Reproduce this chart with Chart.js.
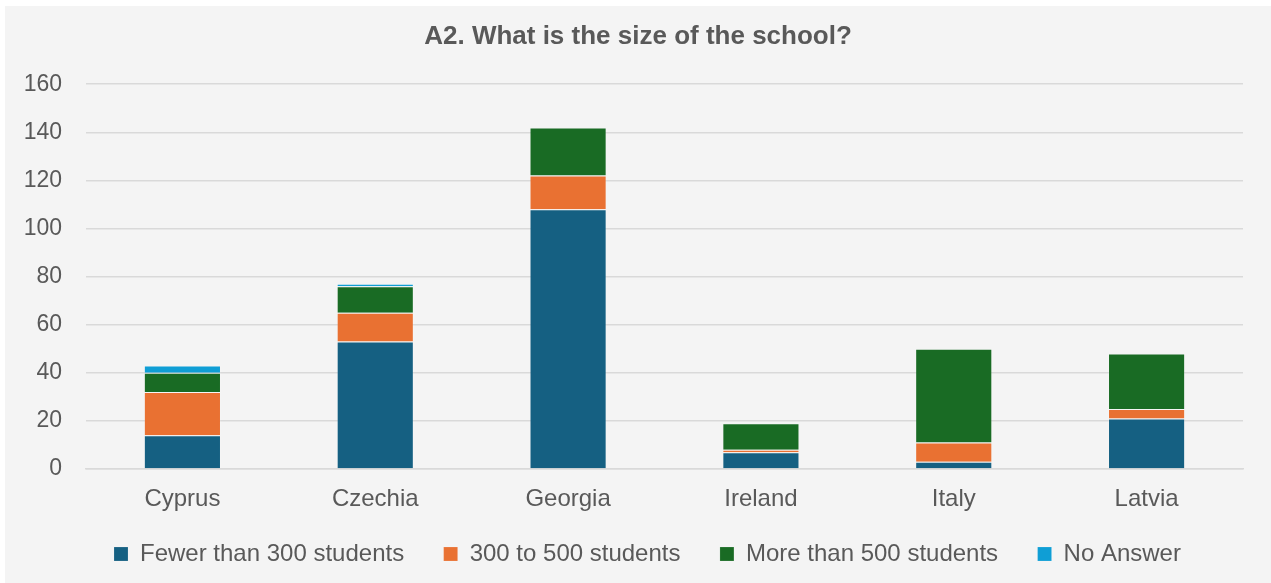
<!DOCTYPE html>
<html>
<head>
<meta charset="utf-8">
<script src="https://cdn.jsdelivr.net/npm/chart.js@4"></script>
<style>
  html, body { margin: 0; padding: 0; background: #ffffff; }
  #panel { position: absolute; left: 5px; top: 6px; width: 1266px; height: 577px; background: #f4f4f4; }
  #panel canvas { display: block; }
</style>
</head>
<body>
<div id="panel"><canvas id="chart" width="1266" height="577"></canvas></div>
<script>
// School size by country (number of responding schools)
const countries = ['Cyprus', 'Czechia', 'Georgia', 'Ireland', 'Italy', 'Latvia'];
const fewerThan300 = [14, 53, 108, 7, 3, 21];
const from300to500 = [18, 12, 14, 1, 8, 4];
const moreThan500 = [8, 11, 20, 11, 39, 23];
const noAnswer = [3, 1, 0, 0, 0, 0];
const seriesNames = ['Fewer than 300 students', '300 to 500 students', 'More than 500 students', 'No Answer'];
const yTicks = [0, 20, 40, 60, 80, 100, 120, 140, 160];

const colors = ['#156082', '#E97132', '#196B24', '#0F9ED5'];
const textColor = '#595959';
const gridColor = '#d9d9d9';
const fontFamily = '"Liberation Sans", Arial, sans-serif';

const seriesValues = [fewerThan300, from300to500, moreThan500, noAnswer];

new Chart(document.getElementById('chart'), {
  type: 'bar',
  data: {
    labels: countries,
    datasets: seriesValues.map((vals, i) => ({
      label: seriesNames[i],
      data: vals,
      backgroundColor: colors[i],
      borderColor: 'rgba(255,255,255,0.15)',
      borderWidth: 1,
      categoryPercentage: 0.4,
      barPercentage: 1.0
    }))
  },
  options: {
    responsive: false,
    animation: false,
    devicePixelRatio: 1,
    layout: { padding: { left: 0, right: 0, top: 0, bottom: 7 } },
    plugins: {
      title: {
        display: true,
        text: 'A2. What is the size of the school?',
        color: textColor,
        font: { family: fontFamily, size: 26, weight: 'bold', lineHeight: 1.2 },
        padding: { top: 15, bottom: 32 }
      },
      legend: {
        position: 'bottom',
        align: 'start',
        fullSize: false,
        labels: {
          color: textColor,
          font: { family: fontFamily, size: 24 },
          boxWidth: 14,
          boxHeight: 14,
          padding: 28,
          // a little extra room after each entry except the last
          generateLabels: (chart) => {
            const items = Chart.defaults.plugins.legend.labels.generateLabels(chart);
            return items.map((it, i) => ({ ...it, text: i < items.length - 1 ? it.text + ' \u2009' : it.text }));
          }
        }
      },
      tooltip: { enabled: false }
    },
    scales: {
      x: {
        stacked: true,
        grid: { display: false, drawTicks: false },
        border: { display: true, color: gridColor, width: 1.5 },
        ticks: {
          color: textColor,
          font: { family: fontFamily, size: 24, lineHeight: 1.2 },
          padding: 16
        },
        afterFit: (s) => { s.height = 45; }
      },
      y: {
        stacked: true,
        min: 0,
        max: 160,
        afterBuildTicks: (s) => { s.ticks = yTicks.map(v => ({ value: v })); },
        grid: { color: gridColor, lineWidth: 1.5, drawTicks: false },
        border: { display: false },
        ticks: {
          color: textColor,
          font: { family: fontFamily, size: 23 },
          padding: 24
        },
        afterFit: (s) => { s.width = 81; }
      },
      // empty right-hand margin axis so the plot stops short of the panel edge
      yMargin: {
        position: 'right',
        display: true,
        grid: { display: false, drawTicks: false },
        border: { display: false },
        ticks: { display: false },
        afterFit: (s) => { s.width = 28; }
      }
    }
  }
});
</script>
</body>
</html>
